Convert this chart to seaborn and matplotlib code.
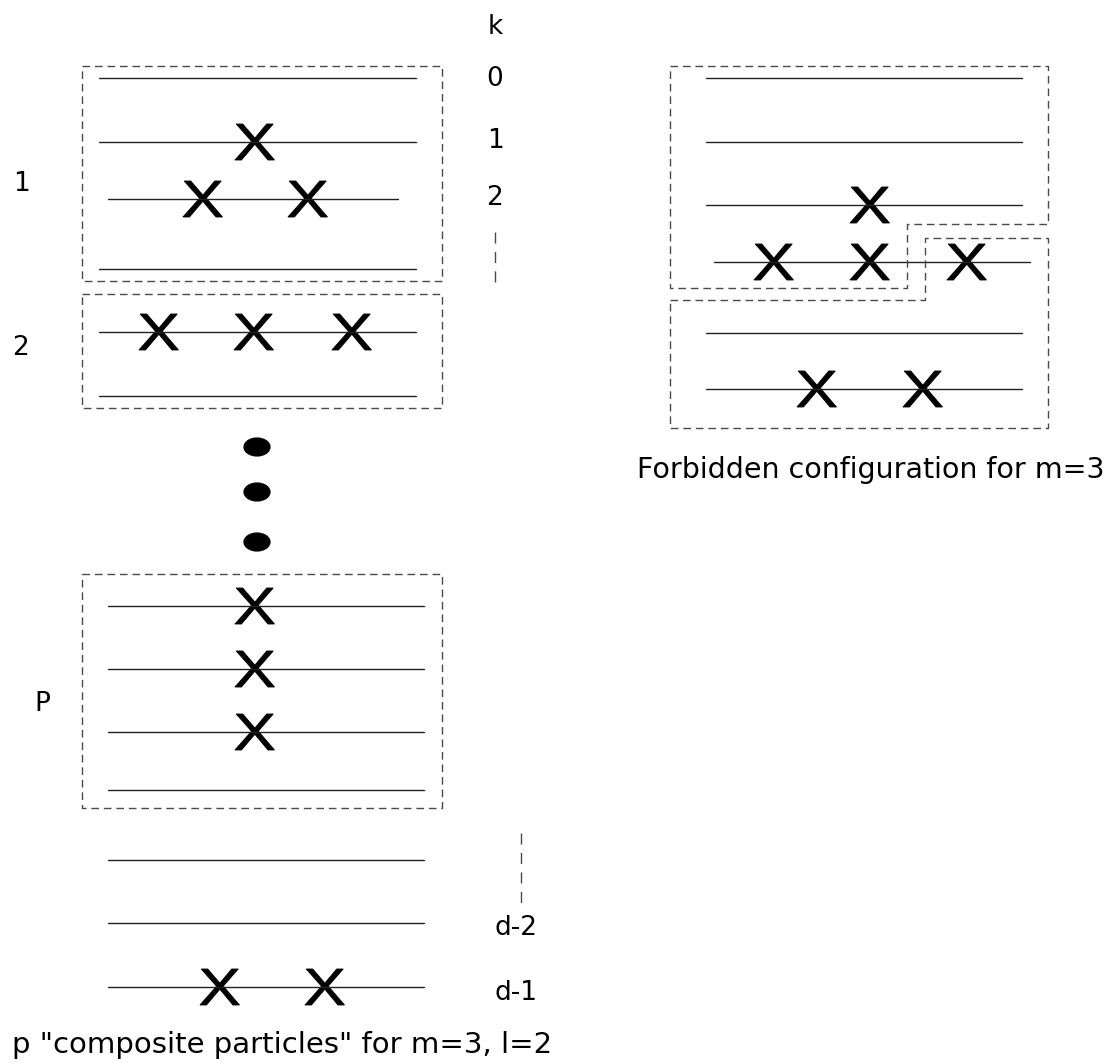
import numpy as np
import matplotlib
matplotlib.use("Agg")
import matplotlib.pyplot as plt
import seaborn as sns
from matplotlib.path import Path
from matplotlib.patches import PathPatch
from matplotlib.textpath import TextPath
from matplotlib.font_manager import FontProperties
from matplotlib.transforms import Affine2D

# ---- diagram data (pixel coordinates of the original figure) ----
# left column: energy levels, (y, x_start, x_end)
box1_levels = [(78, 99, 416), (142, 99, 416), (199, 108, 398), (269, 99, 416)]
box2_levels = [(332, 99, 416), (396, 99, 416)]
boxp_levels = [(606, 108, 424), (669, 108, 424), (732, 108, 424), (790, 108, 424)]
tail_levels = [(860, 108, 424), (923, 108, 424), (987, 108, 424)]

# occupied sites (crosses)
left_x = [254, 202, 307, 158, 253, 351, 254, 254, 254, 219, 324]
left_y = [142, 199, 199, 332, 332, 332, 606, 669, 732, 987, 987]

# dashed boxes around composite particles (x0, y0, x1, y1)
left_boxes = [(82, 66, 442, 281), (82, 294, 442, 408), (82, 574, 442, 808)]

# ellipsis dots
dots_x = [257, 257, 257]
dots_y = [447, 492, 542]

# right panel
right_levels = [(78, 706, 1022), (142, 706, 1022), (205, 706, 1022),
                (262, 714, 1030), (333, 706, 1022), (389, 706, 1022)]
right_x = [869, 773, 869, 966, 816, 922]
right_y = [205, 262, 262, 262, 389, 389]
upper_outline = [(670, 66), (1048, 66), (1048, 224), (907, 224), (907, 288), (670, 288), (670, 66)]
lower_outline = [(670, 300), (925, 300), (925, 238), (1048, 238), (1048, 428), (670, 428), (670, 300)]

# labels
k_labels = ["k", "0", "1", "2"]
k_label_y = [27, 79, 141, 198]
d_labels = ["d-2", "d-1"]
d_label_y = [928, 993]
group_labels = ["1", "2", "P"]
group_label_x = [21, 21, 42]
group_label_y = [184, 348, 704]

sns.set_style("white")
plt.rcParams["font.family"] = ["DejaVu Sans"]
plt.rcParams["text.color"] = "black"

fig = plt.figure(figsize=(11.1, 10.63), dpi=100)
ax = fig.add_axes([0, 0, 1, 1])
ax.set_xlim(0, 1110)
ax.set_ylim(1063, 0)
ax.axis("off")

line_kw = dict(color="#222222", lw=1.0)
dash_kw = dict(color="#4a4a4a", lw=1.0, linestyle=(0, (5.5, 3.5)))

for levels in [box1_levels, box2_levels, boxp_levels, tail_levels, right_levels]:
    for y, x0, x1 in levels:
        ax.plot([x0, x1], [y, y], **line_kw)

for x0, y0, x1, y1 in left_boxes:
    ax.plot([x0, x1, x1, x0, x0], [y0, y0, y1, y1, y0], **dash_kw)

for outline in [upper_outline, lower_outline]:
    xs, ys = zip(*outline)
    ax.plot(xs, ys, **dash_kw)

# small dashed "continuation" marks
ax.plot([495, 495], [232, 283], color="#4a4a4a", lw=1.0, linestyle=(0, (8, 6)))
ax.plot([521, 521], [833, 908], color="#4a4a4a", lw=1.0, linestyle=(0, (8, 6)))

# crosses: glyph "X" stretched to the size used in the original
fp = FontProperties(family="Liberation Sans")
tp = TextPath((0, 0), "X", size=1, prop=fp)
v = tp.vertices
cx = (v[:, 0].min() + v[:, 0].max()) / 2
cy = (v[:, 1].min() + v[:, 1].max()) / 2
gw = v[:, 0].max() - v[:, 0].min()
gh = v[:, 1].max() - v[:, 1].min()
cross_w, cross_h = 41, 36
for x, y in zip(left_x + right_x, left_y + right_y):
    tr = Affine2D().translate(-cx, -cy).scale(cross_w / gw, -cross_h / gh).translate(x, y)
    ax.add_patch(PathPatch(tr.transform_path(tp), facecolor="black",
                           edgecolor="black", lw=0.6))

# ellipsis as flattened dots
ellipse = Path.unit_circle().transformed(Affine2D().scale(1.42, 1.0))
sns.scatterplot(x=dots_x, y=dots_y, marker=ellipse, s=385, color="black",
                edgecolor="none", ax=ax, legend=False)

fs = 19
for lab, y in zip(k_labels, k_label_y):
    ax.text(495, y, lab, fontsize=fs, ha="center", va="center")
for lab, y in zip(d_labels, d_label_y):
    ax.text(495, y, lab, fontsize=fs, ha="left", va="center")
for lab, x, y in zip(group_labels, group_label_x, group_label_y):
    ax.text(x, y, lab, fontsize=fs, ha="center", va="center")

ax.text(12, 1045, 'p "composite particles" for m=3, l=2', fontsize=21, ha="left", va="center")
ax.text(637, 470, "Forbidden configuration for m=3", fontsize=20.5, ha="left", va="center")

fig.savefig("out.png", dpi=100, facecolor="white")
